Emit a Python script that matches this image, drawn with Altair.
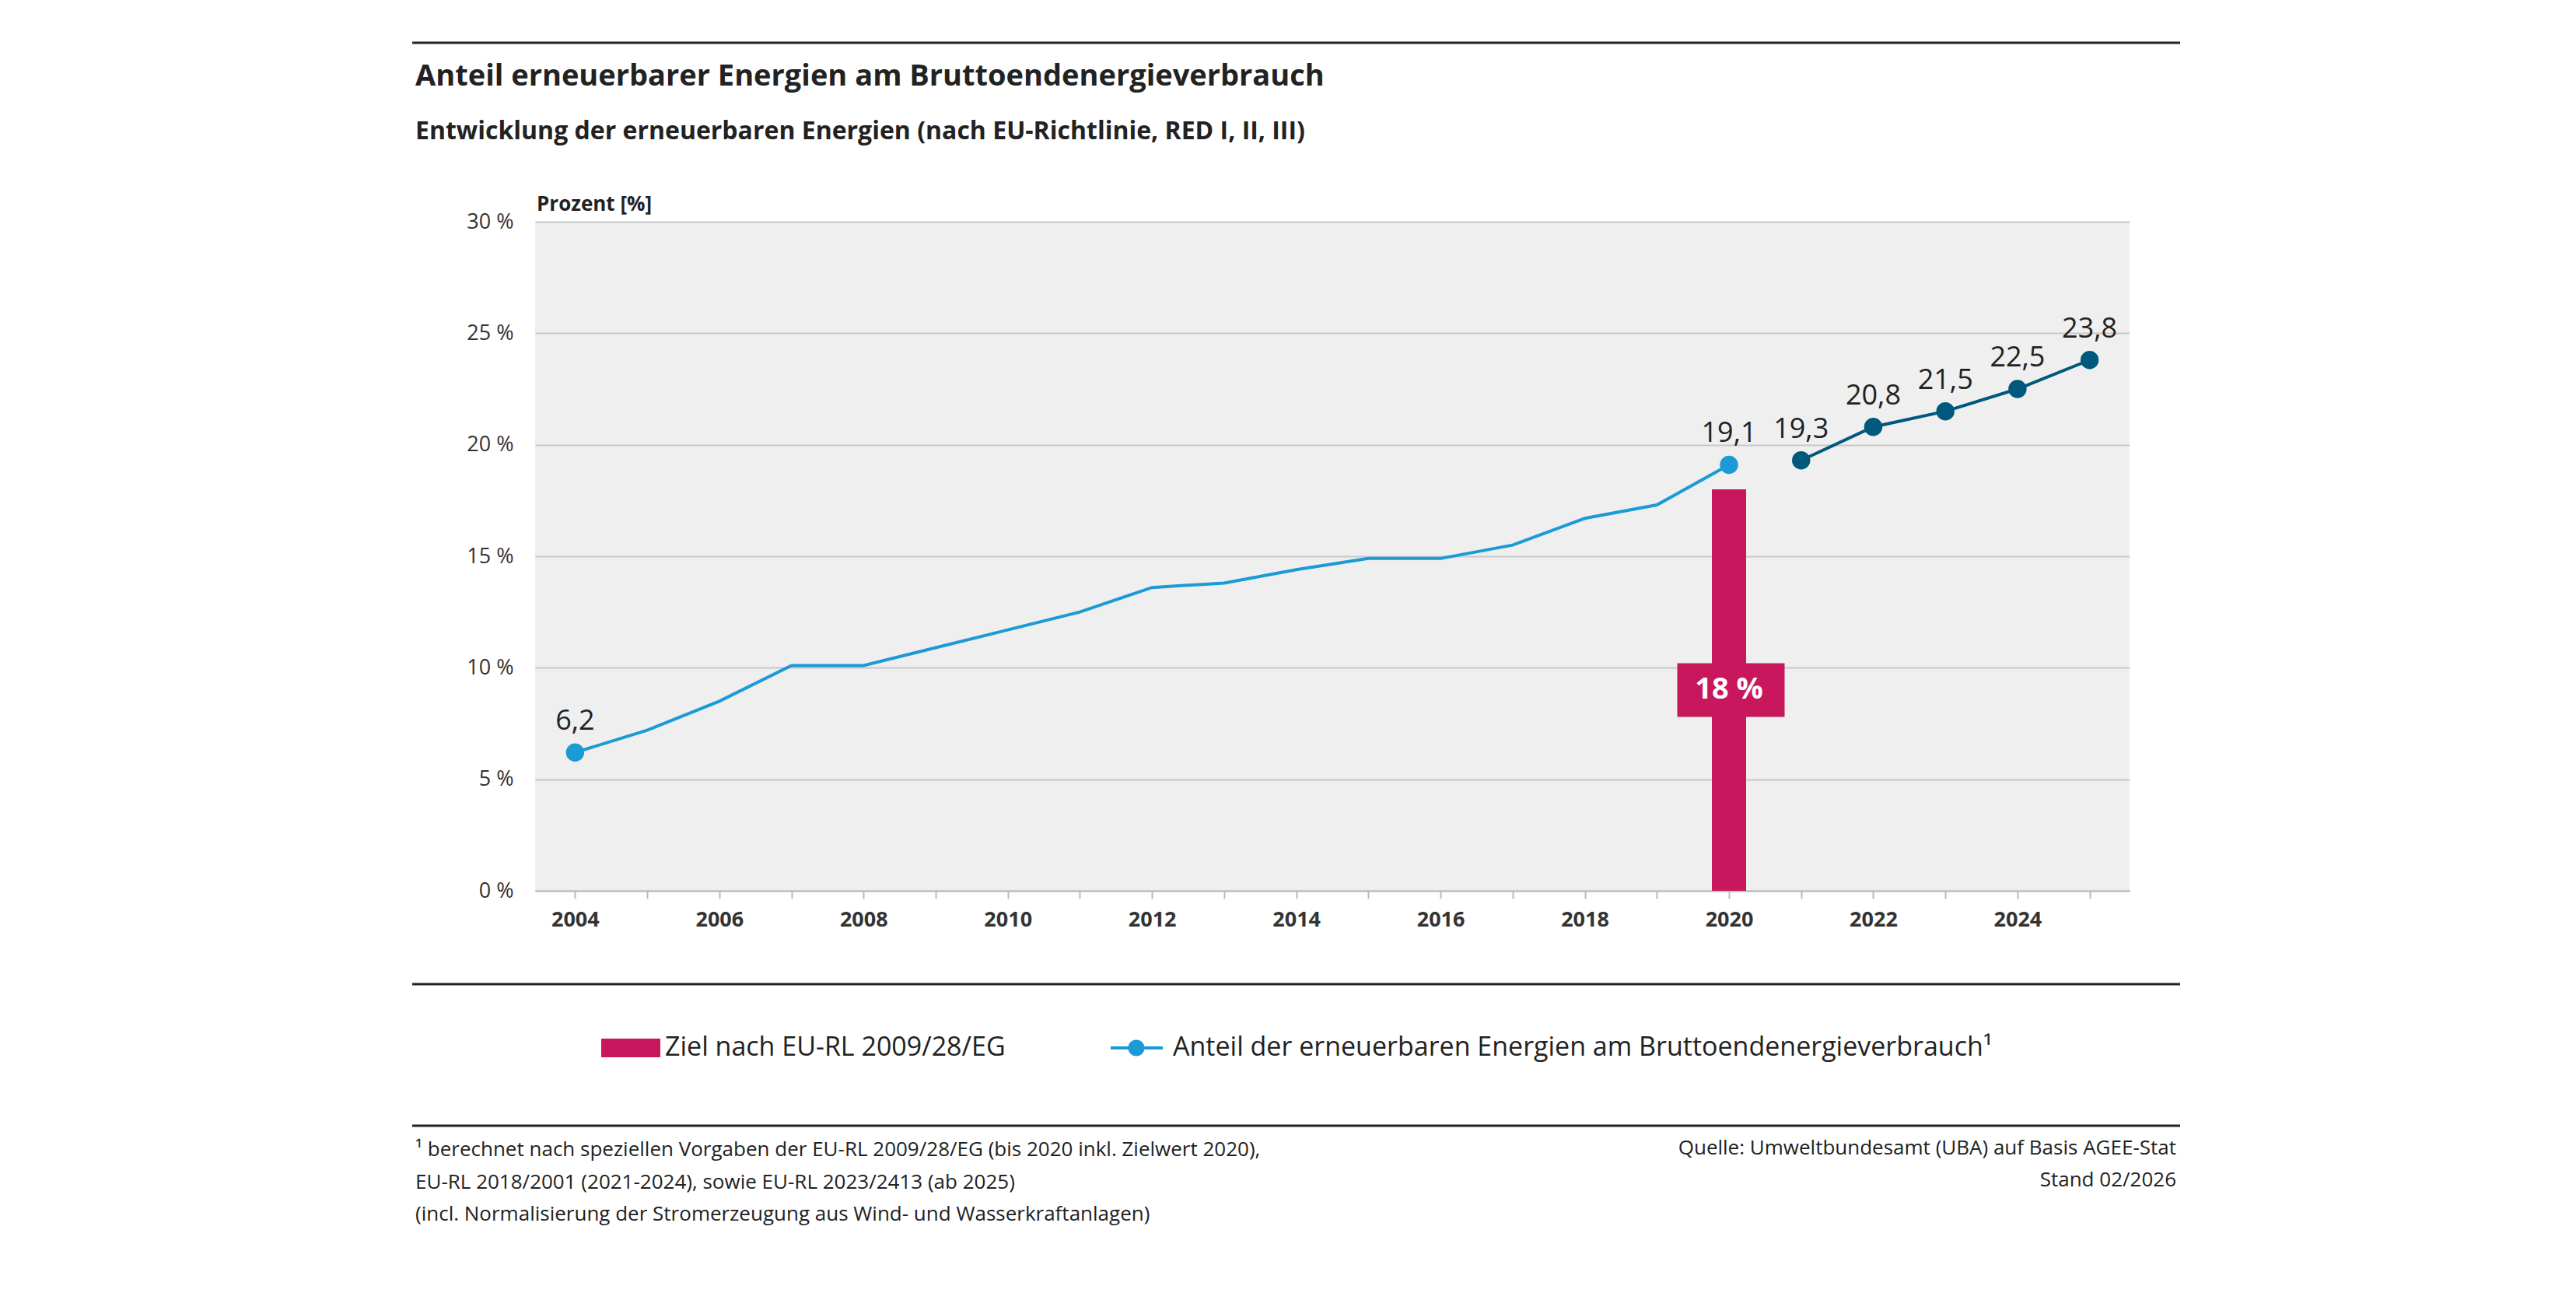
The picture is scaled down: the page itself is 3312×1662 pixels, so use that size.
"Anteil erneuerbarer Energien am Bruttoendenergieverbrauch"

import pandas as pd
import altair as alt

years_red = list(range(2004, 2021))
share_red = [6.2, 7.2, 8.5, 10.1, 10.1, 10.9, 11.7, 12.5, 13.6, 13.8,
             14.4, 14.9, 14.9, 15.5, 16.7, 17.3, 19.1]
years_new = [2021, 2022, 2023, 2024, 2025]
share_new = [19.3, 20.8, 21.5, 22.5, 23.8]
target_year = [2020]
target_value = [18]

label_years = [2004, 2020, 2021, 2022, 2023, 2024, 2025]
label_values = [6.2, 19.1, 19.3, 20.8, 21.5, 22.5, 23.8]
label_texts = ["6,2", "19,1", "19,3", "20,8", "21,5", "22,5", "23,8"]

FONT = "Open Sans"
W, H = 2050, 860
LIGHT = "#1b9ad6"
DARK = "#00587c"
RED = "#c8175d"

red = pd.DataFrame({"year": years_red, "v": share_red})
new = pd.DataFrame({"year": years_new, "v": share_new})
target = pd.DataFrame({"year": target_year, "v": target_value})
labels = pd.DataFrame({"year": label_years, "v": label_values, "t": label_texts})

xs = alt.Scale(domain=[2003.5, 2025.5], nice=False, zero=False)
ys = alt.Scale(domain=[0, 30], nice=False)
xax = alt.Axis(values=list(range(2004, 2026)), tickCount=22,
               labelExpr="datum.value % 2 == 0 ? datum.value : ''",
               title=None, grid=False, labelFont=FONT, labelFontSize=27,
               labelFontWeight="bold", labelColor="#333", labelPadding=14,
               domainColor="#bbb", domainWidth=2, tickColor="#bbb",
               tickWidth=2, tickSize=10)
yax = alt.Axis(values=[0, 5, 10, 15, 20, 25, 30],
               labelExpr="datum.value + ' %'", title=None, labelFont=FONT,
               labelFontSize=27, labelColor="#333", labelPadding=28,
               domain=False, ticks=False, gridColor="#c8c8c8", gridWidth=2)

base = alt.Chart(red)
bar = alt.Chart(target).mark_bar(color=RED, size=44).encode(
    x=alt.X("year:Q", scale=xs, axis=xax), y=alt.Y("v:Q", scale=ys, axis=yax))
box = alt.Chart(target).mark_rect(color=RED).encode(
    x=alt.value(W * (2020 - 2003.5) / 22 - 69),
    x2=alt.value(W * (2020 - 2003.5) / 22 + 69),
    y=alt.value(H - 10.2 * H / 30), y2=alt.value(H - 7.8 * H / 30))
box_txt = alt.Chart(target).mark_text(
    font=FONT, fontSize=38, fontWeight="bold", color="white").encode(
    x=alt.X("year:Q", scale=xs), y=alt.value(H - 9.0 * H / 30),
    text=alt.value("18 %"))

line1 = base.mark_line(color=LIGHT, strokeWidth=4).encode(
    x=alt.X("year:Q", scale=xs), y=alt.Y("v:Q", scale=ys))
pts1 = alt.Chart(red[red.year.isin([2004, 2020])]).mark_circle(
    color=LIGHT, size=550, opacity=1).encode(
    x=alt.X("year:Q", scale=xs), y=alt.Y("v:Q", scale=ys))
line2 = alt.Chart(new).mark_line(color=DARK, strokeWidth=4).encode(
    x=alt.X("year:Q", scale=xs), y=alt.Y("v:Q", scale=ys))
pts2 = alt.Chart(new).mark_circle(color=DARK, size=550, opacity=1).encode(
    x=alt.X("year:Q", scale=xs), y=alt.Y("v:Q", scale=ys))
vals = alt.Chart(labels).mark_text(font=FONT, fontSize=36, dy=-40,
                                   color="#222").encode(
    x=alt.X("year:Q", scale=xs), y=alt.Y("v:Q", scale=ys), text="t:N")

one = pd.DataFrame({"a": [0]})


def txt(s, x, y, size, weight="normal", align="left", color="#222"):
    return alt.Chart(one).mark_text(
        text=s, font=FONT, fontSize=size, fontWeight=weight, align=align,
        baseline="middle", color=color).encode(x=alt.value(x), y=alt.value(y))


def hrule(y):
    return alt.Chart(one).mark_rule(color="#222", strokeWidth=3).encode(
        x=alt.value(-158), x2=alt.value(2115), y=alt.value(y))


deco = [
    hrule(-230), hrule(980), hrule(1162),
    txt("Anteil erneuerbarer Energien am Bruttoendenergieverbrauch",
        -154, -186, 38, "bold"),
    txt("Entwicklung der erneuerbaren Energien (nach EU-Richtlinie, RED I, II, III)",
        -154, -116, 32, "bold"),
    txt("Prozent [%]", 2, -22, 26, "bold"),
    alt.Chart(one).mark_rect(color=RED).encode(
        x=alt.value(85), x2=alt.value(161), y=alt.value(1050), y2=alt.value(1074)),
    txt("Ziel nach EU-RL 2009/28/EG", 167, 1062, 34),
    alt.Chart(one).mark_rule(color=LIGHT, strokeWidth=4).encode(
        x=alt.value(740), x2=alt.value(807), y=alt.value(1062)),
    alt.Chart(one).mark_circle(color=LIGHT, size=450, opacity=1).encode(
        x=alt.value(773), y=alt.value(1062)),
    txt("Anteil der erneuerbaren Energien am Bruttoendenergieverbrauch¹",
        820, 1062, 34),
    txt("¹ berechnet nach speziellen Vorgaben der EU-RL 2009/28/EG  (bis 2020 inkl. Zielwert 2020),",
        -154, 1193, 26),
    txt("EU-RL 2018/2001  (2021-2024),  sowie EU-RL 2023/2413  (ab 2025)",
        -154, 1235, 26),
    txt("(incl. Normalisierung der Stromerzeugung aus Wind- und Wasserkraftanlagen)",
        -154, 1276, 26),
    txt("Quelle: Umweltbundesamt (UBA) auf Basis AGEE-Stat", 2110, 1191, 26,
        align="right"),
    txt("Stand 02/2026", 2110, 1232, 26, align="right"),
]

chart = alt.layer(bar, box, box_txt, line1, pts1, line2, pts2, vals, *deco).properties(
    width=W, height=H, background="white",
    autosize=alt.AutoSizeParams(type="none"),
    padding={"left": 680, "top": 277, "right": 560, "bottom": 500},
).configure_view(fill="#efefef", stroke=None)

chart.save("out.html", embed_options={"renderer": "svg", "actions": False})
